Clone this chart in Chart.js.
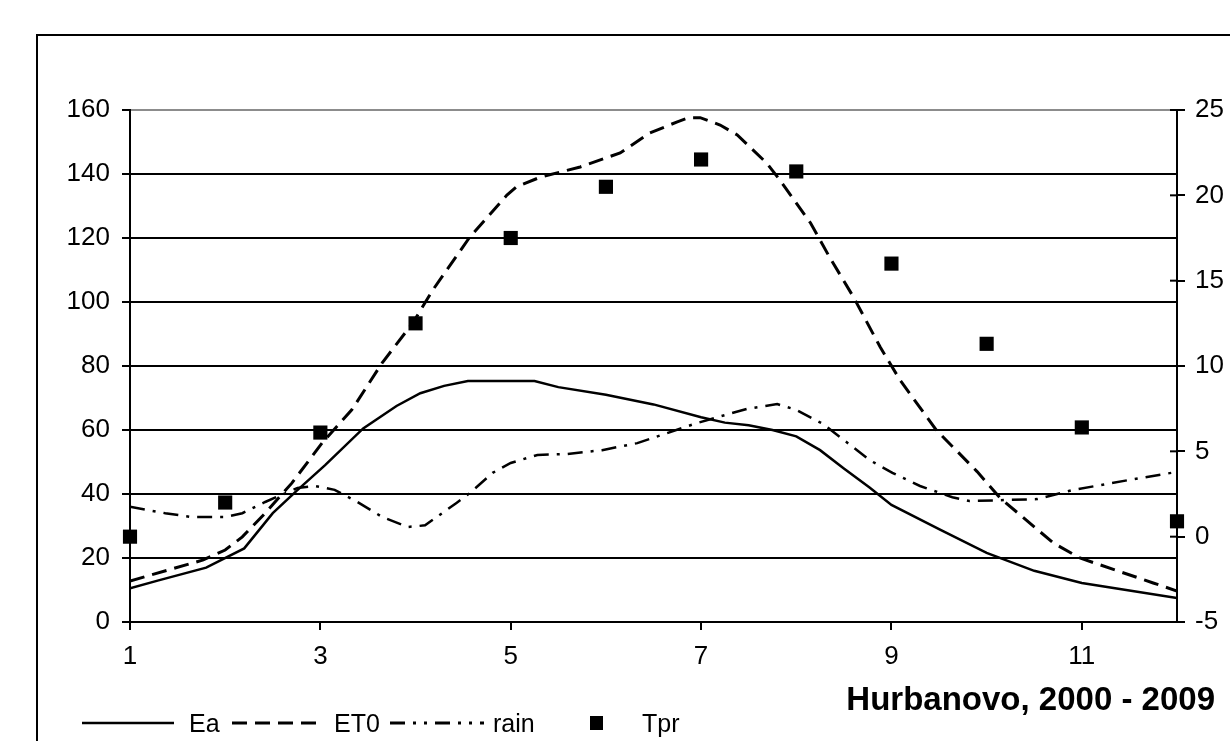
<!DOCTYPE html>
<html>
<head>
<meta charset="utf-8">
<script src="https://cdn.jsdelivr.net/npm/chart.js@4.4.0/dist/chart.umd.min.js"></script>
<style>
  html, body { margin: 0; padding: 0; background: #fff; }
  #wrap { position: relative; width: 1230px; height: 741px; overflow: hidden; font-family: "Liberation Sans", Arial, sans-serif; color: #000; }
  #frame { position: absolute; left: 36px; top: 34px; width: 1400px; height: 900px; border-left: 2px solid #000; border-top: 2px solid #000; }
  canvas { position: absolute; left: 0; top: 0; }
  .txt { position: absolute; font-size: 25px; line-height: 30px; top: 708px; }
  .sample { position: absolute; top: 713px; }
  #title { position: absolute; right: 15px; top: 680px; font-size: 33px; font-weight: bold; line-height: 38px; }
</style>
</head>
<body>
<div id="wrap">
  <div id="frame"></div>
  <canvas id="chart" width="1230" height="741"></canvas>

  <!-- legend -->
  <svg class="sample" style="left:82px" width="92" height="20"><line x1="0" y1="10" x2="92" y2="10" stroke="#000" stroke-width="2.5"/></svg>
  <span class="txt" style="left:189px">Ea</span>
  <svg class="sample" style="left:232px" width="92" height="20"><line x1="0" y1="10" x2="92" y2="10" stroke="#000" stroke-width="3" stroke-dasharray="15 8"/></svg>
  <span class="txt" style="left:334px">ET0</span>
  <svg class="sample" style="left:390px" width="94" height="20"><line x1="0" y1="10" x2="94" y2="10" stroke="#000" stroke-width="3" stroke-dasharray="15 8 3 8 3 8"/></svg>
  <span class="txt" style="left:493px">rain</span>
  <svg class="sample" style="left:590px" width="14" height="20"><rect x="0" y="3" width="13" height="14" fill="#000"/></svg>
  <span class="txt" style="left:642px">Tpr</span>

  <div id="title">Hurbanovo, 2000 - 2009</div>
</div>

<script>
// month ticks shown on the x axis
const xTicks = [1, 3, 5, 7, 9, 11];

// Ea (left axis)
const eaX   = [1, 1.3, 1.8, 2.2, 2.5, 2.75, 3.05, 3.45, 3.8, 4.05, 4.3, 4.55, 5.25, 5.5, 6.0, 6.5, 7.0, 7.25, 7.5, 7.75, 8.0, 8.25, 8.5, 8.77, 9.0, 9.5, 10.0, 10.5, 11.0, 12.0];
const eaVal = [10.5, 13, 17, 23, 34, 41, 49, 60.5, 67.5, 71.5, 73.8, 75.3, 75.3, 73.4, 71, 68, 64, 62.3, 61.5, 60, 58, 53.7, 48, 42, 36.6, 29, 21.6, 16, 12.2, 7.5];

// ET0 (left axis)
const et0X   = [1, 1.77, 2.0, 2.18, 2.42, 2.7, 3.02, 3.33, 3.65, 3.97, 4.18, 4.57, 4.96, 5.06, 5.31, 5.73, 6.15, 6.46, 6.75, 6.87, 6.99, 7.2, 7.38, 7.69, 7.83, 8.15, 8.35, 8.6, 8.88, 9.09, 9.47, 9.9, 10.14, 10.7, 10.98, 11.75, 12];
const et0Val = [12.8, 19.4, 22.5, 26.6, 34, 43.4, 56, 66.3, 81, 93.4, 103.7, 120.3, 133.4, 136, 139, 142.2, 146.6, 152.8, 156.3, 157.6, 157.6, 155.3, 152.2, 143.4, 138, 124.7, 114, 101.6, 86, 75.6, 60, 47, 38.8, 24.7, 20, 12.2, 9.7];

// rain (left axis)
const rainX   = [1, 1.37, 1.65, 2.0, 2.18, 2.42, 2.76, 2.94, 3.15, 3.39, 3.65, 3.92, 4.1, 4.43, 4.57, 4.81, 5.0, 5.28, 5.59, 5.96, 6.33, 6.64, 6.96, 7.48, 7.8, 8.0, 8.28, 8.46, 8.77, 9.01, 9.3, 9.64, 9.82, 10.53, 10.9, 11.5, 12];
const rainVal = [36, 34, 32.8, 32.8, 34, 37.5, 41.9, 42.5, 41.3, 37.5, 32.8, 29.7, 30.2, 37.2, 40.3, 46.6, 49.7, 52.2, 52.5, 53.7, 55.9, 59, 62.2, 66.6, 68.1, 66.3, 61.9, 57.8, 50.6, 46.6, 42.5, 39, 37.8, 38.4, 41.2, 44.4, 46.9];

// Tpr monthly (right axis)
const months = [1, 2, 3, 4, 5, 6, 7, 8, 9, 10, 11, 12];
const tprVal = [0.0, 2.0, 6.1, 12.5, 17.5, 20.5, 22.1, 21.4, 16.0, 11.3, 6.4, 0.9];

const pts = (xs, ys) => xs.map((x, i) => ({ x: x, y: ys[i] }));

// small inward tick marks on the right axis
const innerTicks = {
  id: 'innerTicks',
  afterDraw(chart) {
    const s = chart.scales.y2;
    const c = chart.ctx;
    c.save();
    c.strokeStyle = '#000';
    c.lineWidth = 2;
    s.ticks.forEach(t => {
      const y = s.getPixelForValue(t.value);
      c.beginPath();
      c.moveTo(s.left - 7, y);
      c.lineTo(s.left, y);
      c.stroke();
    });
    c.restore();
  }
};

const tickFont = { family: '"Liberation Sans", Arial, sans-serif', size: 26 };

new Chart(document.getElementById('chart'), {
  type: 'line',
  data: {
    datasets: [
      { label: 'Ea', data: pts(eaX, eaVal), borderColor: '#000', borderWidth: 2.5, pointRadius: 0, tension: 0, yAxisID: 'y' },
      { label: 'ET0', data: pts(et0X, et0Val), borderColor: '#000', borderWidth: 3, borderDash: [15, 8], pointRadius: 0, tension: 0, yAxisID: 'y' },
      { label: 'rain', data: pts(rainX, rainVal), borderColor: '#000', borderWidth: 2.5, borderDash: [15, 8, 3, 8], pointRadius: 0, tension: 0, yAxisID: 'y' },
      { label: 'Tpr', data: pts(months, tprVal), showLine: false, pointStyle: 'rect', pointRadius: 10, pointBorderWidth: 0, backgroundColor: '#000', borderColor: '#000', yAxisID: 'y2', clip: false }
    ]
  },
  options: {
    responsive: false,
    animation: false,
    layout: { padding: { top: 110, left: 0, right: 0, bottom: 0 } },
    plugins: { legend: { display: false }, tooltip: { enabled: false } },
    scales: {
      x: {
        type: 'linear',
        min: 1,
        max: 12,
        afterBuildTicks: s => { s.ticks = xTicks.map(v => ({ value: v })); },
        afterFit: s => { s.height = 119; },
        grid: { drawOnChartArea: false, tickLength: 8, color: '#000', lineWidth: 2 },
        border: { color: '#000', width: 2 },
        ticks: { font: tickFont, color: '#000', padding: 11, maxRotation: 0, autoSkip: false }
      },
      y: {
        position: 'left',
        min: 0,
        max: 160,
        afterFit: s => { s.width = 130; },
        grid: {
          color: c => (c.tick && c.tick.value === 160 ? '#8c8c8c' : '#000'),
          tickColor: '#000',
          lineWidth: 2,
          tickLength: 8
        },
        border: { color: '#000', width: 2 },
        ticks: { stepSize: 20, font: tickFont, color: '#000', padding: 12 }
      },
      y2: {
        position: 'right',
        min: -5,
        max: 25,
        afterFit: s => { s.width = 53; },
        grid: { drawOnChartArea: false, tickLength: 8, color: '#000', lineWidth: 2 },
        border: { color: '#000', width: 2 },
        ticks: { stepSize: 5, font: tickFont, color: '#000', padding: 10 }
      }
    }
  },
  plugins: [innerTicks]
});
</script>
</body>
</html>
